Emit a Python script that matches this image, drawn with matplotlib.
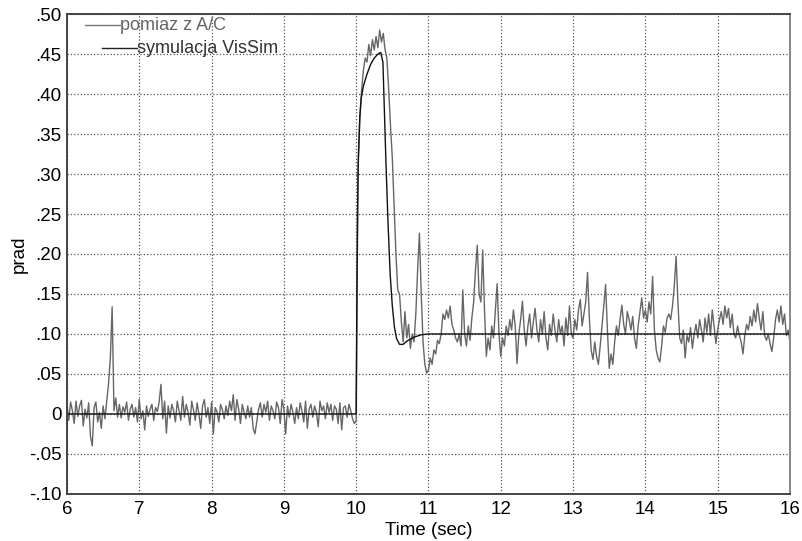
import matplotlib.pyplot as plt
import numpy as np

plt.rcParams['font.family'] = ['Liberation Sans', 'DejaVu Sans']

# pomiar z karty A/C, probkowanie co 0.025 s od 6.0 s
t0 = 6.0
dt = 0.025
pomiar = [
    # 6.0 - 6.5
    0.012, -0.008, 0.015, 0.004, -0.012, 0.016, -0.003, 0.010, 0.017, -0.015,
    0.006, -0.005, 0.014, -0.028, -0.040, 0.008, 0.015, -0.010, 0.002, -0.018,
    # 6.5 - 7.0
    0.010, -0.006, 0.016, 0.038, 0.070, 0.134, 0.004, 0.020, -0.004, 0.012,
    -0.005, 0.009, 0.002, 0.015, -0.008, 0.006, 0.012, -0.004, 0.008, -0.010,
    # 7.0 - 7.5
    0.018, -0.006, 0.004, -0.020, 0.010, -0.003, 0.006, 0.012, -0.008, 0.008,
    0.003, 0.015, 0.037, -0.006, 0.016, -0.024, 0.010, -0.005, 0.012, 0.004,
    # 7.5 - 8.0
    -0.010, 0.016, 0.004, -0.008, 0.022, -0.004, 0.012, 0.002, -0.014, 0.016,
    0.005, -0.008, 0.014, 0.000, -0.018, 0.010, 0.018, -0.004, 0.008, -0.012,
    # 8.0 - 8.5
    0.015, -0.025, 0.008, 0.003, -0.010, 0.012, 0.005, -0.006, 0.010, -0.002,
    0.016, 0.004, 0.024, -0.008, 0.018, 0.006, -0.012, 0.012, 0.002, -0.006,
    # 8.5 - 9.0
    0.010, -0.004, 0.008, -0.018, -0.025, -0.010, 0.006, 0.014, -0.004, 0.012,
    0.002, 0.016, -0.008, 0.010, 0.004, -0.006, 0.015, 0.008, -0.012, 0.018,
    # 9.0 - 9.5
    0.006, -0.025, 0.010, -0.004, 0.012, 0.002, -0.012, 0.008, -0.006, 0.014,
    0.004, -0.010, 0.016, -0.018, 0.006, 0.012, -0.004, 0.010, 0.002, -0.016,
    # 9.5 - 10.0
    0.016, 0.004, 0.010, -0.006, 0.014, 0.002, 0.012, -0.008, 0.010, 0.006,
    -0.012, 0.014, -0.020, 0.008, 0.010, -0.004, 0.012, 0.004, -0.006, -0.012,
    # 10.0 - 10.5
    -0.008, 0.300, 0.370, 0.405, 0.430, 0.445, 0.440, 0.462, 0.448, 0.468,
    0.455, 0.472, 0.458, 0.480, 0.465, 0.476, 0.455, 0.445, 0.405, 0.360,
    # 10.5 - 11.0
    0.320, 0.260, 0.200, 0.155, 0.150, 0.115, 0.090, 0.128, 0.095, 0.112,
    0.082, 0.100, 0.090, 0.125, 0.180, 0.226, 0.150, 0.090, 0.062, 0.051,
    # 11.0 - 11.5
    0.055, 0.070, 0.062, 0.080, 0.075, 0.092, 0.088, 0.100, 0.125, 0.118,
    0.130, 0.120, 0.135, 0.112, 0.105, 0.095, 0.090, 0.100, 0.085, 0.155,
    # 11.5 - 12.0
    0.100, 0.085, 0.110, 0.092, 0.120, 0.140, 0.180, 0.211, 0.150, 0.140,
    0.205, 0.130, 0.072, 0.095, 0.080, 0.110, 0.095, 0.130, 0.163, 0.100,
    # 12.0 - 12.5
    0.072, 0.095, 0.085, 0.110, 0.098, 0.118, 0.105, 0.130, 0.110, 0.063,
    0.100, 0.118, 0.141, 0.105, 0.085, 0.110, 0.125, 0.095, 0.115, 0.132,
    # 12.5 - 13.0
    0.105, 0.090, 0.118, 0.100, 0.128, 0.095, 0.080, 0.112, 0.098, 0.125,
    0.105, 0.090, 0.118, 0.100, 0.110, 0.085, 0.120, 0.098, 0.135, 0.100,
    # 13.0 - 13.5
    0.095, 0.118, 0.105, 0.130, 0.143, 0.110, 0.125, 0.140, 0.177, 0.120,
    0.080, 0.068, 0.090, 0.072, 0.062, 0.085, 0.110, 0.135, 0.162, 0.105,
    # 13.5 - 14.0
    0.057, 0.075, 0.062, 0.090, 0.110, 0.098, 0.118, 0.136, 0.112, 0.100,
    0.128, 0.118, 0.105, 0.122, 0.095, 0.082, 0.110, 0.128, 0.145, 0.120,
    # 14.0 - 14.5
    0.130, 0.115, 0.140, 0.125, 0.172, 0.105, 0.080, 0.070, 0.065, 0.085,
    0.110, 0.102, 0.120, 0.125, 0.118, 0.135, 0.160, 0.197, 0.140, 0.095,
    # 14.5 - 15.0
    0.088, 0.105, 0.070, 0.098, 0.090, 0.108, 0.082, 0.100, 0.112, 0.095,
    0.118, 0.105, 0.090, 0.120, 0.102, 0.125, 0.098, 0.130, 0.110, 0.088,
    # 15.0 - 15.5
    0.105, 0.118, 0.128, 0.112, 0.135, 0.120, 0.132, 0.108, 0.125, 0.100,
    0.095, 0.110, 0.098, 0.090, 0.075, 0.098, 0.112, 0.105, 0.122, 0.110,
    # 15.5 - 16.0
    0.130, 0.115, 0.138, 0.120, 0.105, 0.128, 0.098, 0.092, 0.100, 0.088,
    0.078, 0.095, 0.118, 0.130, 0.115, 0.135, 0.112, 0.125, 0.098, 0.105,
    0.090,
]

# odpowiedz modelu VisSim
sym_t = [6.0, 10.0, 10.01, 10.02, 10.03, 10.05, 10.07, 10.10, 10.15, 10.20,
         10.25, 10.30, 10.34, 10.37, 10.39, 10.41, 10.44, 10.47, 10.50, 10.53,
         10.56, 10.60, 10.65, 10.70, 10.80, 10.90, 11.0, 16.0]
sym_y = [0.0, 0.0, 0.15, 0.26, 0.32, 0.37, 0.395, 0.41, 0.425, 0.437,
         0.445, 0.450, 0.452, 0.440, 0.380, 0.320, 0.240, 0.175, 0.135, 0.108,
         0.094, 0.087, 0.087, 0.091, 0.096, 0.099, 0.100, 0.100]

y_ticks = [-0.10, -0.05, 0.0, 0.05, 0.10, 0.15, 0.20, 0.25, 0.30, 0.35, 0.40, 0.45, 0.50]
y_labels = ['-.10', '-.05', '0', '.05', '.10', '.15', '.20', '.25', '.30', '.35', '.40', '.45', '.50']
x_ticks = [6, 7, 8, 9, 10, 11, 12, 13, 14, 15, 16]

czas = t0 + dt * np.arange(len(pomiar))

fig = plt.figure(figsize=(8.02, 5.41), dpi=100)
ax = fig.add_axes([0.0835, 0.087, 0.9015, 0.887])

ax.plot(czas, pomiar, color='#666666', lw=1.0)
ax.plot(sym_t, sym_y, color='#111111', lw=1.0)

ax.set_xlim(6, 16)
ax.set_ylim(-0.10, 0.50)
ax.set_xticks(x_ticks)
ax.set_yticks(y_ticks)
ax.set_yticklabels(y_labels)
ax.tick_params(axis='y', length=0, labelsize=13.5, pad=4)
ax.tick_params(axis='x', length=0, labelsize=13.5, pad=5)
ax.grid(True, color='#555555', linestyle=':', linewidth=0.9)

for s in ax.spines.values():
    s.set_color('#444444')
    s.set_linewidth(1.4)
ax.spines['right'].set_color('#888888')

ax.set_xlabel('Time (sec)', fontsize=13.5, labelpad=3)
ax.set_ylabel('prad', fontsize=13.5, labelpad=1)

# legenda rysowana recznie, schodkowo
ax.plot([0.025, 0.073], [0.977, 0.977], color='#777777', lw=1.0, transform=ax.transAxes)
ax.text(0.073, 0.977, 'pomiaz z A/C', transform=ax.transAxes, fontsize=13,
        color='#666666', va='center', ha='left')
ax.plot([0.048, 0.097], [0.929, 0.929], color='#222222', lw=1.0, transform=ax.transAxes)
ax.text(0.097, 0.929, 'symulacja VisSim', transform=ax.transAxes, fontsize=13,
        color='#333333', va='center', ha='left')

fig.savefig('out.png', dpi=100)
